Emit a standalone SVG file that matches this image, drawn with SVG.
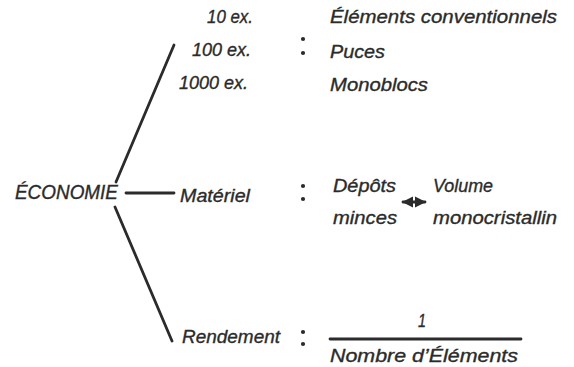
<svg xmlns="http://www.w3.org/2000/svg" width="574" height="367" viewBox="0 0 574 367">
<style>
text{font-family:"Liberation Sans",Arial,sans-serif;font-style:italic;fill:#2b2b2b;stroke:#2b2b2b;stroke-width:0.35;font-size:18.5px}
.big{font-size:20px}
.ln{stroke:#2b2b2b;stroke-width:2.8;fill:none;stroke-linecap:round}
.dot{fill:#2b2b2b}
</style>
<defs>
<marker id="ah" viewBox="0 0 10 10" refX="9" refY="5" markerWidth="4" markerHeight="4" orient="auto-start-reverse"><path d="M0,0L10,5L0,10z" fill="#2b2b2b"/></marker>
</defs>
<rect width="574" height="367" fill="#fff"/>
<g id="economie"><text class="big" x="15" y="199" textLength="103" lengthAdjust="spacingAndGlyphs">ÉCONOMIE</text></g>
<g id="connectors">
<line class="ln" x1="174" y1="45" x2="116" y2="182"/>
<line class="ln" x1="126" y1="193" x2="174" y2="193"/>
<line class="ln" x1="115" y1="207" x2="172" y2="341"/>
<line class="ln" x1="403" y1="202" x2="425" y2="202" stroke-width="2" marker-start="url(#ah)" marker-end="url(#ah)"/>
</g>
<g id="quantites">
<text x="207" y="23" textLength="46" lengthAdjust="spacingAndGlyphs">10 ex.</text>
<text x="192" y="56" textLength="59" lengthAdjust="spacingAndGlyphs">100 ex.</text>
<text x="179" y="89" textLength="69" lengthAdjust="spacingAndGlyphs">1000 ex.</text>
<circle class="dot" cx="303" cy="39" r="2.1"/><circle class="dot" cx="303" cy="53" r="2.1"/>
<text x="330" y="23" textLength="227" lengthAdjust="spacingAndGlyphs">Éléments conventionnels</text>
<text x="330" y="58" textLength="55" lengthAdjust="spacingAndGlyphs">Puces</text>
<text x="330" y="91" textLength="98" lengthAdjust="spacingAndGlyphs">Monoblocs</text>
</g>
<g id="materiel">
<text x="180" y="202" textLength="70" lengthAdjust="spacingAndGlyphs">Matériel</text>
<circle class="dot" cx="303" cy="186" r="2.1"/><circle class="dot" cx="303" cy="199" r="2.1"/>
<text x="333" y="192" textLength="63" lengthAdjust="spacingAndGlyphs">Dépôts</text>
<text x="333" y="224" textLength="64" lengthAdjust="spacingAndGlyphs">minces</text>
<text x="433" y="192" textLength="60" lengthAdjust="spacingAndGlyphs">Volume</text>
<text x="433" y="224" textLength="124" lengthAdjust="spacingAndGlyphs">monocristallin</text>
</g>
<g id="rendement">
<text x="182" y="343" textLength="98" lengthAdjust="spacingAndGlyphs">Rendement</text>
<circle class="dot" cx="303" cy="332" r="2.1"/><circle class="dot" cx="303" cy="344" r="2.1"/>
<text x="418" y="327" textLength="8" lengthAdjust="spacingAndGlyphs">1</text>
<line class="ln" x1="330" y1="339" x2="521" y2="339" stroke-width="2"/>
<text x="330" y="362" textLength="188" lengthAdjust="spacingAndGlyphs">Nombre d’Éléments</text>
</g>
</svg>
